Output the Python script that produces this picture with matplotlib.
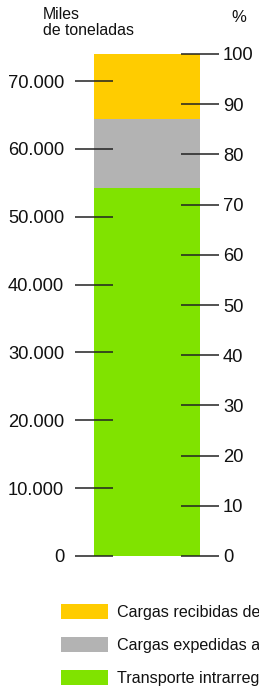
import matplotlib.pyplot as plt
from matplotlib.patches import Patch

plt.rcParams['font.family'] = ['Liberation Sans', 'DejaVu Sans']

# values in thousand tonnes, stacked bottom -> top
categories = ["Transporte intrarregional",
              "Cargas expedidas a otras regiones",
              "Cargas recibidas de otras regiones"]
values = [54200, 10200, 9600]
colors = ["#80E300", "#B3B3B3", "#FFCC00"]

left_ticks = [0, 10000, 20000, 30000, 40000, 50000, 60000, 70000]
right_ticks = [0, 10, 20, 30, 40, 50, 60, 70, 80, 90, 100]

W, H = 259, 692
fig = plt.figure(figsize=(W / 100, H / 100), dpi=100)

# axes box = the bar itself (px from the top-left of the picture)
x0, x1, ytop, ybot = 94, 200, 54, 556
ax = fig.add_axes([x0 / W, 1 - ybot / H, (x1 - x0) / W, (ybot - ytop) / H])

total = sum(values)
bottom = 0
for v, c in zip(values, colors):
    ax.bar(0, v, width=1, bottom=bottom, color=c, zorder=1)
    bottom += v

ax.set_xlim(-0.5, 0.5)
ax.set_ylim(0, total)
ax.set_xticks([])
ax.set_yticks(left_ticks)
ax.set_yticklabels([f"{t:,}".replace(",", ".") for t in left_ticks])
ax.tick_params(axis="y", direction="inout", length=27, width=1.1,
               color="#222222", pad=8, labelsize=13.2, labelcolor="#111111")
for s in ax.spines.values():
    s.set_visible(False)

ax2 = ax.twinx()
ax2.set_ylim(0, 100)
ax2.set_yticks(right_ticks)
ax2.tick_params(axis="y", direction="inout", length=27, width=1.1,
                color="#222222", pad=3, labelsize=13.2, labelcolor="#111111")
for s in ax2.spines.values():
    s.set_visible(False)
for t in ax.yaxis.get_major_ticks() + ax2.yaxis.get_major_ticks():
    t.tick1line.set_zorder(5)
    t.tick2line.set_zorder(5)

fig.text(43 / W, 1 - 7 / H, "Miles\nde toneladas", ha="left", va="top",
         fontsize=11.4, linespacing=1.1, color="#111111")
fig.text(239 / W, 1 - 22 / H, "%", ha="center", va="baseline",
         fontsize=12, color="#111111")

handles = [Patch(facecolor=c, edgecolor="none") for c in colors[::-1]]
fig.legend(handles, categories[::-1], loc="upper left",
           bbox_to_anchor=(61 / W, 1 - 604 / H), frameon=False,
           borderpad=0, borderaxespad=0, fontsize=11.6,
           handlelength=2.9, handleheight=1.05, handletextpad=0.6,
           labelspacing=1.05, labelcolor="#111111")

fig.savefig("out.png", dpi=100)
